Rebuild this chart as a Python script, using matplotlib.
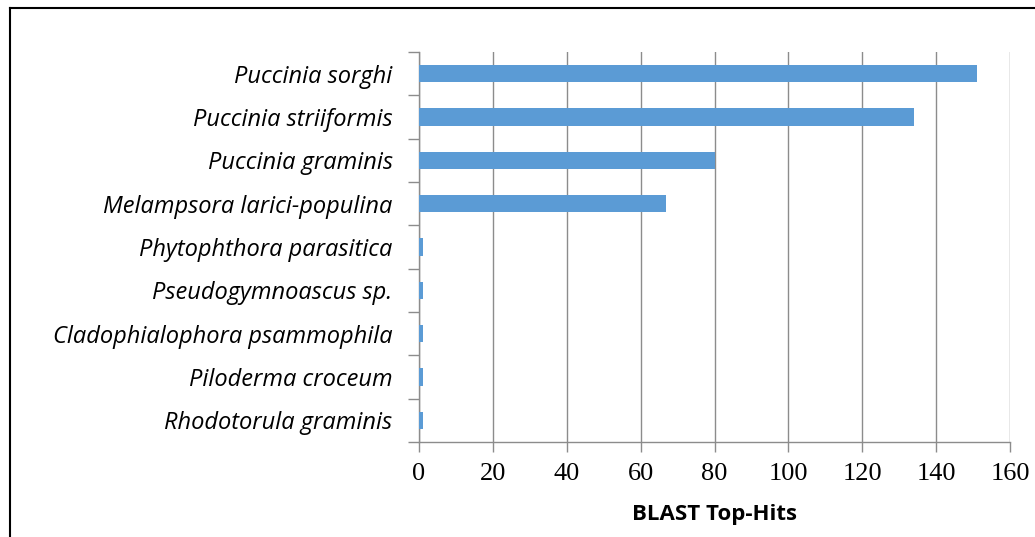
import numpy as np
import matplotlib.pyplot as plt
from matplotlib.lines import Line2D

species = ["Puccinia sorghi", "Puccinia striiformis", "Puccinia graminis",
           "Melampsora larici-populina", "Phytophthora parasitica",
           "Pseudogymnoascus sp.", "Cladophialophora psammophila",
           "Piloderma croceum", "Rhodotorula graminis"]
hits = [151, 134, 80, 67, 1, 1, 1, 1, 1]
xticks = [0, 20, 40, 60, 80, 100, 120, 140, 160]

grid_col = "#8c8c8c"

fig = plt.figure(figsize=(10.35, 5.37), dpi=100)
ax = fig.add_axes([419/1035, 1-442/537, 591/1035, 390/537])

y = np.arange(len(species))
ax.barh(y, hits, height=0.4, color="#5b9bd5", zorder=3)
ax.set_ylim(len(species)-0.5, -0.5)
ax.set_xlim(0, 160)

ax.set_xticks(xticks)
ax.set_xticklabels([str(t) for t in xticks], family="Liberation Serif", fontsize=19)
ax.set_yticks(y)
ax.set_yticklabels(species, family="Open Sans", style="italic", fontsize=17)
ax.set_yticks(np.arange(-0.5, len(species)), minor=True)
ax.tick_params(axis="y", which="major", length=0, pad=19)
ax.tick_params(axis="y", which="minor", length=8, color=grid_col, width=1)
ax.tick_params(axis="x", length=7, color=grid_col, width=1, pad=8)

ax.xaxis.grid(True, color=grid_col, linewidth=1, zorder=0)
for s in ["top", "right"]:
    ax.spines[s].set_visible(False)
for s in ["left", "bottom"]:
    ax.spines[s].set_color(grid_col)
    ax.spines[s].set_linewidth(1)

ax.set_xlabel("BLAST Top-Hits", family="Open Sans", fontweight="bold", fontsize=16, labelpad=14)

# outer frame
x0 = 9.5/1035
y0 = 1 - 7.5/537
fig.add_artist(Line2D([x0, x0], [0, y0], transform=fig.transFigure, color="black", lw=1.5))
fig.add_artist(Line2D([x0, 1], [y0, y0], transform=fig.transFigure, color="black", lw=1.5))

fig.savefig("out.png", dpi=100)
